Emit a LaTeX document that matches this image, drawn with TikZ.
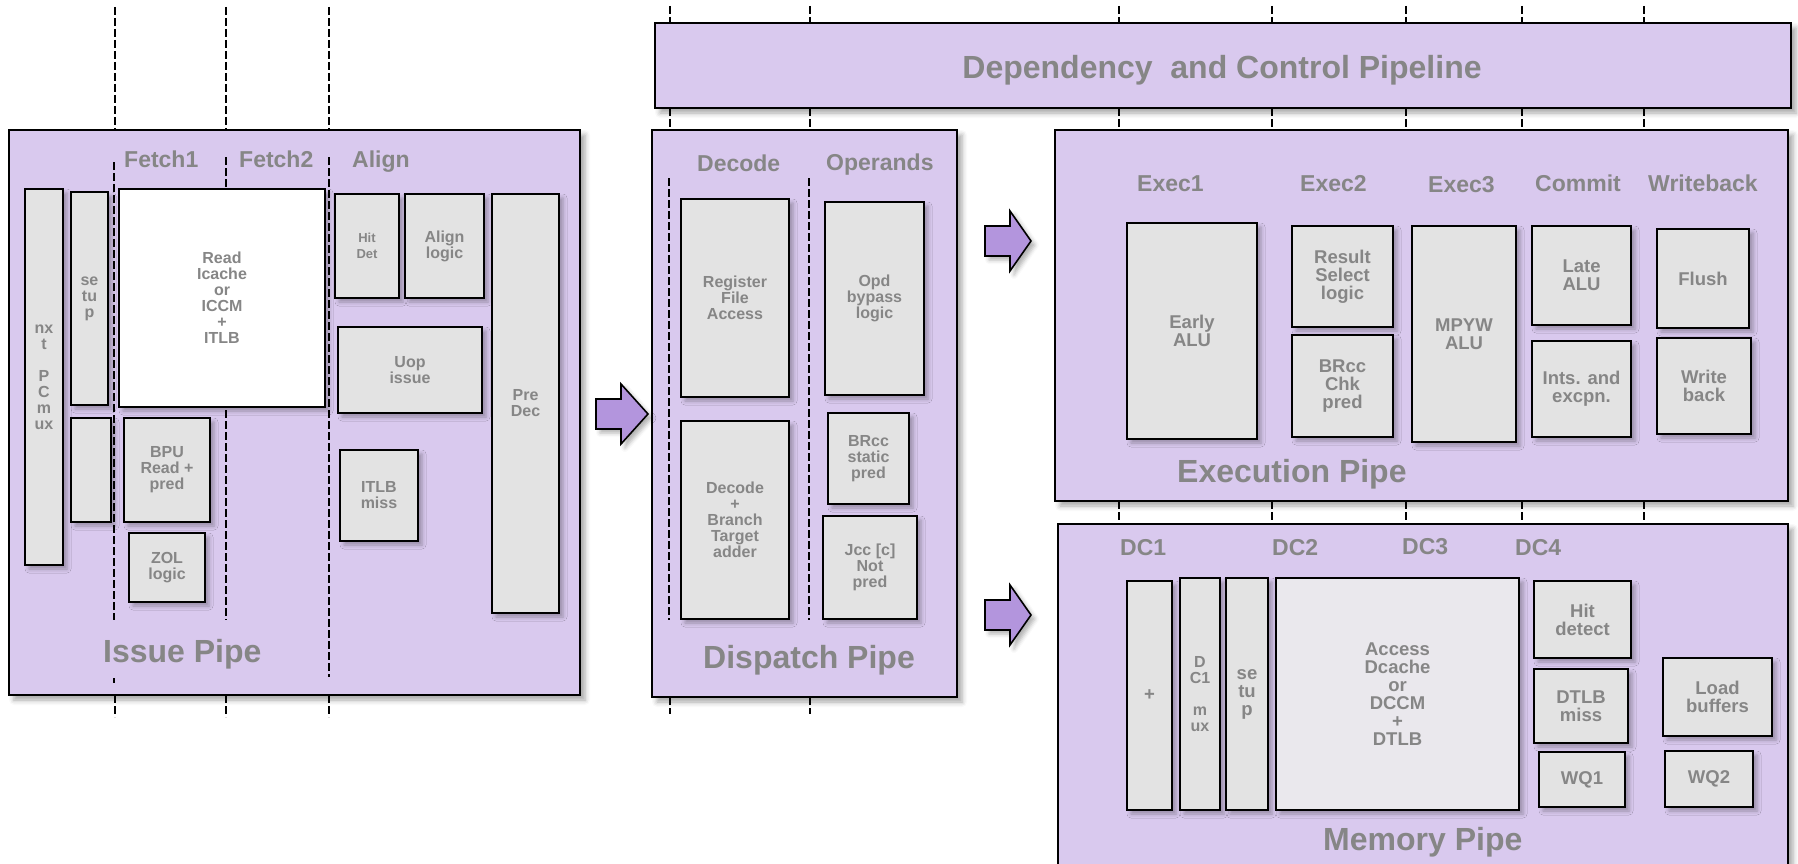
\documentclass[tikz,border=0pt]{standalone}
\usepackage{fontspec}
\setmainfont{Liberation Sans}
\usetikzlibrary{shadows.blur}
\definecolor{pp}{HTML}{D9C9EE}
\definecolor{bx}{HTML}{E3E3E3}
\definecolor{ac}{HTML}{EAE8ED}
\definecolor{ar}{HTML}{B395DD}
\definecolor{tx}{HTML}{868686}

\begin{document}
\begin{tikzpicture}[x=1pt,y=-1pt,
  pipe/.style={draw,line width=1.8pt,fill=pp,blur shadow={shadow xshift=5pt,shadow yshift=-5pt,shadow blur radius=5pt,shadow opacity=35}},
  blk/.style={draw,line width=1.6pt,fill=bx,text=tx,align=center,inner sep=0pt,font=\bfseries\fontsize{16}{16}\selectfont,blur shadow={shadow xshift=4pt,shadow yshift=-4pt,shadow blur radius=4pt,shadow opacity=30}},
  big/.style={font=\bfseries\fontsize{18.5}{18}\selectfont},
  sz/.style 2 args={minimum width=#1,minimum height=#2},
  stage/.style={text=tx,anchor=base west,inner sep=0pt,font=\bfseries\fontsize{23}{23}\selectfont},
  title/.style={text=tx,anchor=base west,inner sep=0pt,font=\bfseries\fontsize{32}{32}\selectfont},
  tick/.style={line width=1.4pt,dash pattern=on 8pt off 3pt},
  bar/.style={draw,line width=1.6pt,fill=ar,line join=miter,blur shadow={shadow xshift=4pt,shadow yshift=-4pt,shadow blur radius=4pt,shadow opacity=30}}]
\useasboundingbox (0,0) rectangle (1798,864);

% stage boundaries
\foreach \x in {115,226,329}{
  \draw[tick] (\x,7) -- (\x,130);
  \draw[tick] (\x,695) -- (\x,717);}
\foreach \x in {670,810,1119,1272,1406,1522,1644}{
  \draw[tick] (\x,6) -- (\x,23);
  \draw[tick] (\x,108) -- (\x,130);}
\foreach \x in {670,810} \draw[tick] (\x,697) -- (\x,714);
\foreach \x in {1119,1272,1406,1522,1644} \draw[tick] (\x,501) -- (\x,524);

% pipes
\node[pipe,sz={1136}{85}] (dcp) at (1223,65.5) {};
\node[pipe,sz={571}{565}] (ip) at (294.5,412.5) {};
\node[pipe,sz={305}{567}] (dp) at (804.5,413.5) {};
\node[pipe,sz={733}{371}] (ep) at (1421.5,315.5) {};
\node[pipe,sz={730}{366}] (mp) at (1423,707) {};

\node[title,anchor=base] (dcpt) at (1222,79) {Dependency\ \ and Control Pipeline};
\node[title] (ipt) at (103,662) {Issue Pipe};
\node[title] (dpt) at (703,668) {Dispatch Pipe};
\node[title] (ept) at (1177,482) {Execution Pipe};
\node[title] (mpt) at (1323,850) {Memory Pipe};

% issue pipe
\draw[tick] (114,162) -- (114,620);
\draw[tick] (114,678) -- (114,683);
\draw[tick] (226,157) -- (226,620);
\draw[tick] (329,157) -- (329,677);
\node[stage] (f1) at (124,167) {Fetch1};
\node[stage] (f2) at (239,167) {Fetch2};
\node[stage] (al) at (352,167) {Align};
\node[blk,sz={38}{376}] (nxt) at (44,377) {nx\\t\\~\\P\\C\\m\\ux};
\node[blk,sz={37}{213}] (su1) at (89.5,298.5) {se\\tu\\p};
\node[blk,sz={40}{104}] (emp) at (91,470) {};
\node[blk,fill=white,sz={206}{218}] (ic) at (222,298) {Read\\Icache\\or\\ICCM\\+\\ITLB};
\node[blk,sz={86}{104}] (bpu) at (167,470) {BPU\\Read +\\pred};
\node[blk,sz={76}{69}] (zol) at (167,567.5) {ZOL\\logic};
\node[blk,sz={64}{104},font=\bfseries\fontsize{13}{15.5}\selectfont] (hd) at (367,246) {Hit\\Det};
\node[blk,sz={79}{104}] (alg) at (444.5,246) {Align\\logic};
\node[blk,sz={144}{86}] (uop) at (410,370) {Uop\\issue};
\node[blk,sz={78}{91}] (itm) at (379,495.5) {ITLB\\miss};
\node[blk,sz={67}{419}] (pd) at (525.5,403.5) {Pre\\Dec};

% dispatch pipe
\foreach \x in {669,809} \draw[tick] (\x,178) -- (\x,620);
\node[stage] (dc) at (697,171) {Decode};
\node[stage] (op) at (826,170) {Operands};
\node[blk,sz={108}{198}] (rfa) at (735,298) {Register\\File\\Access};
\node[blk,sz={108}{198}] (dbt) at (735,520) {Decode\\+\\Branch\\Target\\adder};
\node[blk,sz={99}{193}] (opd) at (874.5,298.5) {Opd\\bypass\\logic};
\node[blk,sz={81}{91}] (brs) at (868.5,458.5) {BRcc\\static\\pred};
\node[blk,sz={94}{103}] (jcc) at (870,567.5) {Jcc [c]\\Not\\pred};

% execution pipe
\node[stage] (e1) at (1137,191) {Exec1};
\node[stage] (e2) at (1300,191) {Exec2};
\node[stage] (e3) at (1428,192) {Exec3};
\node[stage] (cm) at (1535,191) {Commit};
\node[stage] (wbk) at (1648,191) {Writeback};
\node[blk,big,sz={130}{216}] (ea) at (1192,331) {Early\\ALU};
\node[blk,big,sz={101}{101}] (rsl) at (1342.5,276.5) {Result\\Select\\logic};
\node[blk,big,sz={101}{102}] (bcp) at (1342.5,386) {BRcc\\Chk\\pred};
\node[blk,big,sz={104}{216}] (mpy) at (1464,334) {MPYW\\ALU};
\node[blk,big,sz={99}{99}] (la) at (1581.5,275.5) {Late\\ALU};
\node[blk,big,sz={99}{96}] (ie) at (1581.5,389) {Ints. and\\excpn.};
\node[blk,big,sz={92}{99}] (fl) at (1703,278.5) {Flush};
\node[blk,big,sz={94}{96}] (wb) at (1704,386) {Write\\back};

% memory pipe
\node[stage] (d1) at (1120,555) {DC1};
\node[stage] (d2) at (1272,555) {DC2};
\node[stage] (d3) at (1402,554) {DC3};
\node[stage] (d4) at (1515,555) {DC4};
\node[blk,big,sz={45}{229}] (add) at (1149.5,695.5) {+};
\node[blk,sz={40}{232}] (dmx) at (1200,694) {D\\C1\\~\\m\\ux};
\node[blk,big,sz={42}{232}] (su2) at (1247,694) {se\\tu\\p};
\node[blk,big,fill=ac,sz={243}{232}] (dca) at (1397.5,694) {Access\\Dcache\\or\\DCCM\\+\\DTLB};
\node[blk,big,sz={97}{77}] (hit) at (1582.5,619.5) {Hit\\detect};
\node[blk,big,sz={94}{74}] (dtm) at (1581,706) {DTLB\\miss};
\node[blk,big,sz={86}{55}] (wq1) at (1582,779.5) {WQ1};
\node[blk,big,sz={109}{78}] (lb) at (1717.5,697) {Load\\buffers};
\node[blk,big,sz={88}{56}] (wq2) at (1709,779) {WQ2};

% hand-off arrows
\foreach \x/\y/\h in {596/414/27,985/241/21,985/615/21}
  \draw[bar] ({\x},{\y-15}) -- ++(25,0) -- ++(0,-15) -- ++(\h,30) -- ++(-\h,30) -- ++(0,-15) -- ++(-25,0) -- cycle;
\end{tikzpicture}
\end{document}
